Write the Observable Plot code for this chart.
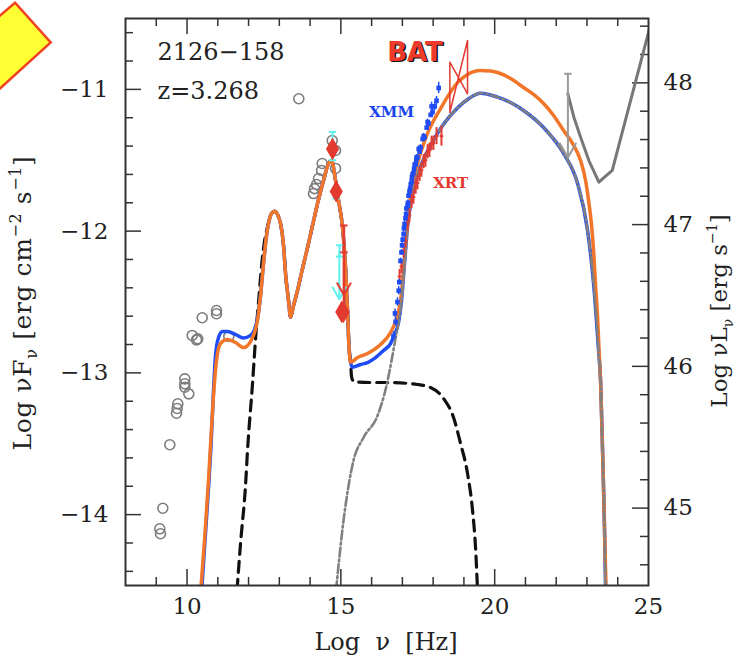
<!DOCTYPE html>
<html><head><meta charset="utf-8">
<script src="https://cdn.jsdelivr.net/npm/d3@7"></script>
<script src="https://cdn.jsdelivr.net/npm/@observablehq/plot@0.6"></script>
<style>
body{margin:0;background:#fff;}
#wrap{position:relative;width:751px;height:660px;overflow:hidden;}
#deco{position:absolute;left:0;top:0;}
</style></head><body>
<div id="wrap">
<svg id="deco" width="60" height="100"><polygon points="15,2.7 50.7,42.3 -5,93 -40,50" fill="#ffff33" stroke="#ee4422" stroke-width="2.5"/></svg>
</div>
<script>
// ---- data (log nu [Hz], log nuF_nu [erg cm^-2 s^-1]) ----
const archNu = [9.138,9.115,9.213,9.44,9.658,9.68,9.70,9.928,9.928,9.928,10.058,10.168,10.308,10.35,10.494,10.958,10.958,11.358,13.634,14.112,14.144,14.209,14.274,14.372,14.394,14.72,14.827,14.827];
const archF  = [-14.135,-14.10,-13.955,-13.507,-13.285,-13.251,-13.218,-13.042,-13.077,-13.101,-13.148,-12.736,-12.767,-12.76,-12.611,-12.560,-12.583,-12.743,-11.066,-11.735,-11.70,-11.671,-11.629,-11.572,-11.523,-11.361,-11.431,-11.558];

const uvNu = [14.73,14.84,14.96];
const uvHi = [-11.30,-11.70,-12.10];
const uvLo = [-11.50,-11.77,-12.18];
const uvUlNu = [14.95];
const uvUlFrom = [-12.14];
const uvUlTo = [-12.48];

const optNu = [14.73,14.85,15.03,15.08];
const optF  = [-11.42,-11.72,-12.57,-12.57];
const optBarNu = [15.10];
const optBarHi = [-11.96];
const optBarLo = [-12.57];
const optCapF = [-11.96,-12.15];
const optUlFrom = [-12.15];
const optUlTo = [-12.45];

const xmmNu = [16.71,16.76,16.78,16.84,16.88,16.90,16.94,16.97,16.99,17.01,17.04,17.05,17.07,17.10,17.12,17.13,17.17,17.18,17.20,17.23,17.25,17.27,17.30,17.31,17.33,17.36,17.38,17.40,17.43,17.45,17.46,17.49,17.53,17.56,17.59,17.66,17.69,17.72,17.79,17.82,17.85,17.92,17.95,17.98,18.05,18.11,18.18];
const xmmF  = [-12.74,-12.58,-12.64,-12.50,-12.42,-12.36,-12.21,-12.15,-12.10,-12.06,-12.02,-11.98,-11.95,-11.91,-11.88,-11.84,-11.82,-11.80,-11.75,-11.72,-11.70,-11.67,-11.65,-11.62,-11.60,-11.59,-11.56,-11.53,-11.53,-11.50,-11.48,-11.48,-11.42,-11.44,-11.41,-11.35,-11.33,-11.34,-11.27,-11.23,-11.24,-11.18,-11.12,-11.16,-11.12,-11.08,-10.99];
const xmmErr = [0.03,0.03,0.03,0.03,0.03,0.02,0.02,0.02,0.02,0.02,0.02,0.02,0.02,0.02,0.02,0.02,0.02,0.02,0.02,0.02,0.02,0.02,0.02,0.02,0.02,0.02,0.02,0.02,0.02,0.02,0.02,0.02,0.02,0.02,0.02,0.02,0.02,0.02,0.02,0.02,0.02,0.02,0.03,0.03,0.03,0.03,0.04];

const xrtNu = [16.91,16.97,17.04,17.10,17.17,17.23,17.30,17.36,17.43,17.49,17.56,17.62,17.69,17.75,17.82,17.88,17.95,18.01,18.11,18.27];
const xrtF  = [-12.32,-12.25,-12.14,-12.07,-11.95,-11.89,-11.79,-11.76,-11.69,-11.66,-11.60,-11.57,-11.51,-11.50,-11.44,-11.43,-11.38,-11.38,-11.33,-11.33];
const xrtErr = [0.05,0.05,0.05,0.05,0.05,0.05,0.05,0.05,0.05,0.05,0.05,0.05,0.05,0.05,0.05,0.05,0.05,0.05,0.06,0.07];

const batNu = [18.543,19.118,19.118,18.543,18.543];
const batF  = [-10.808,-11.031,-10.655,-11.163,-10.808];

const latNu = [22.379,22.574,22.792,23.062,23.387,23.822,24.96,25.3];
const latF  = [-11.031,-11.196,-11.337,-11.502,-11.655,-11.572,-10.632,-10.35];
const latUlNu = [22.38];
const latUlFrom = [-10.89];
const latUlTo = [-11.48];

// model: total (orange, second model)
const oNu = [10.44,10.568,10.698,10.763,10.861,10.958,11.088,11.306,11.576,11.836,12.064,12.194,12.291,12.389,12.486,
 12.584,12.649,12.746,12.844,12.941,13.039,13.137,13.202,13.299,13.364,13.462,13.592,13.754,13.917,14.08,14.242,14.437,14.6,14.697,14.827,14.925,15.055,15.152,15.217,15.266,15.315,
 15.543,15.868,16.29,16.615,16.81,16.94,17.038,17.103,17.265,17.493,17.818,18.241,18.793,19.118,19.541,19.866,20.094,20.516,20.939,21.264,21.589,21.915,22.24,22.532,22.792,22.955,23.052,23.15,23.215,23.28,23.345,23.393,23.442,23.507,23.572,23.621];
const oF = [-14.55,-14.183,-13.759,-13.512,-13.16,-12.913,-12.793,-12.765,-12.786,-12.821,-12.779,-12.715,-12.631,-12.454,-12.228,
 -12.031,-11.946,-11.876,-11.86,-11.883,-11.946,-12.101,-12.299,-12.489,-12.607,-12.525,-12.419,-12.264,-12.116,-11.96,-11.805,-11.643,-11.523,-11.502,-11.643,-11.784,-11.974,-12.257,-12.56,-12.821,-12.925,
 -12.892,-12.863,-12.8,-12.715,-12.617,-12.489,-12.278,-12.101,-11.749,-11.523,-11.311,-11.135,-10.952,-10.895,-10.867,-10.87,-10.881,-10.923,-10.987,-11.036,-11.1,-11.184,-11.29,-11.382,-11.502,-11.643,-11.784,-11.96,-12.137,-12.384,-12.609,-12.842,-13.054,-13.548,-14.112,-14.535];

// model: total (blue)
const bNu = [10.47,10.584,10.714,10.78,10.861,10.926,11.023,11.153,11.316,11.576,11.836,12.064,12.194,12.291,12.389,12.486,
 12.584,12.649,12.746,12.844,12.941,13.039,13.137,13.202,13.299,13.364,13.462,13.592,13.754,13.917,14.08,14.242,14.437,14.6,14.697,14.827,14.925,15.055,15.152,15.217,15.266,
 15.37,15.64,15.868,16.128,16.388,16.615,16.745,16.875,16.973,17.038,17.103,17.168,17.265,17.363,17.59,17.915,18.241,18.566,19.118,19.541,20.094,20.516,20.939,21.589,22.24,22.695,23.02,23.215,23.377,23.442,23.507,23.572,23.605];
const bF = [-14.55,-14.183,-13.759,-13.512,-13.124,-12.877,-12.751,-12.708,-12.708,-12.729,-12.754,-12.736,-12.694,-12.617,-12.454,-12.228,
 -12.031,-11.946,-11.876,-11.86,-11.883,-11.946,-12.101,-12.299,-12.489,-12.607,-12.525,-12.419,-12.264,-12.116,-11.96,-11.805,-11.643,-11.523,-11.502,-11.643,-11.784,-11.974,-12.257,-12.56,-12.821,
 -12.96,-12.941,-12.927,-12.892,-12.842,-12.793,-12.729,-12.645,-12.489,-12.313,-12.137,-11.967,-11.812,-11.706,-11.544,-11.396,-11.276,-11.184,-11.071,-11.027,-11.055,-11.093,-11.149,-11.269,-11.452,-11.664,-11.996,-12.37,-12.842,-13.054,-13.548,-14.112,-14.535];

// external Compton component (grey dot-dash)
const ecNu = [14.843,15.087,15.412,15.737,16.193,16.485,16.648,16.778,16.875,16.973,17.038,17.103,17.168,17.265,17.363,17.59,17.915,18.241,18.566,19.118,19.541,20.094,20.516,20.939,21.589,22.24,22.695,23.02,23.215,23.377,23.442,23.507,23.572,23.605];
const ecF = [-14.535,-14.042,-13.618,-13.456,-13.301,-13.089,-12.913,-12.758,-12.645,-12.489,-12.313,-12.137,-11.967,-11.812,-11.706,-11.544,-11.396,-11.276,-11.184,-11.071,-11.027,-11.055,-11.093,-11.149,-11.269,-11.452,-11.664,-11.996,-12.37,-12.842,-13.054,-13.548,-14.112,-14.535];

// torus + disk + X-ray corona (black dashed)
const dNu = [11.625,11.739,11.901,11.966,12.129,12.24,12.34,12.43,12.52,12.6,12.66,12.746,12.844,12.941,13.039,13.137,13.202,13.299,13.364,13.462,13.592,13.754,13.917,14.08,14.242,14.437,14.6,14.697,14.827,14.925,15.055,15.152,15.217,15.266,15.315,15.35,15.42,15.965,16.518,17.493,17.915,18.338,18.663,18.891,19.118,19.281,19.378,19.443];
const dF = [-14.535,-14.204,-13.795,-13.548,-13.075,-12.722,-12.46,-12.23,-12.07,-11.985,-11.93,-11.876,-11.86,-11.883,-11.946,-12.101,-12.299,-12.489,-12.607,-12.525,-12.419,-12.264,-12.116,-11.96,-11.805,-11.643,-11.523,-11.502,-11.643,-11.784,-11.974,-12.257,-12.56,-12.821,-12.925,-13.03,-13.062,-13.068,-13.068,-13.082,-13.103,-13.181,-13.315,-13.498,-13.71,-13.971,-14.232,-14.535];

// axes
const xMajor = [10,15,20];
const xMinor = [9,11,12,13,14,16,17,18,19,21,22,23,24];
const xLabels = [10,15,20,25];
const yMajor = [-14,-13,-12,-11];
const yMinor = [-14.4,-14.2,-13.8,-13.6,-13.4,-13.2,-12.8,-12.6,-12.4,-12.2,-11.8,-11.6,-11.4,-11.2,-10.8,-10.6];
const lumOffset = 58.954; // log nuL_nu = log nuF_nu + offset
const lumMajor = [45,46,47,48];
const lumMinor = [44.6,44.8,45.2,45.4,45.6,45.8,46.2,46.4,46.6,46.8,47.2,47.4,47.6,47.8,48.2,48.4];

const annotations = [
  {text:"XMM", nu:16.65, f:-11.163, color:"#1a45ee"},
  {text:"XRT", nu:18.57, f:-11.664, color:"#e23a30"}
];
const batLabel = {text:"BAT", nu:17.41, f:-10.74};

// ---- plot ----
const W=751, H=660, mL=125, mR=103, mT=18, mB=75;
const pW=W-mL-mR, pH=H-mT-mB;
const FONT="DejaVu Serif";
const axisCol="#333";
const BLUE="#1f4cf5", ORANGE="#f2762a", RED="#e23a30", CYAN="#5ef2ee", GREY="#7d7d7d";
const capW=0.12;

const chart = Plot.plot({
  width: W, height: H,
  marginLeft: mL, marginRight: mR, marginTop: mT, marginBottom: mB,
  x: {domain:[8,25], axis:null},
  y: {domain:[-14.5,-10.5], axis:null},
  style: {fontFamily: FONT, background:"#fff"},
  marks: [
    // ticks
    Plot.tickX(xMinor,{x:d=>d, insetTop:pH-8, stroke:axisCol, strokeWidth:1.5}),
    Plot.tickX(xMajor,{x:d=>d, insetTop:pH-16, stroke:axisCol, strokeWidth:1.5}),
    Plot.tickX(xMinor,{x:d=>d, insetBottom:pH-8, stroke:axisCol, strokeWidth:1.5}),
    Plot.tickX(xMajor,{x:d=>d, insetBottom:pH-16, stroke:axisCol, strokeWidth:1.5}),
    Plot.tickY(yMinor,{y:d=>d, insetRight:pW-8, stroke:axisCol, strokeWidth:1.5}),
    Plot.tickY(yMajor,{y:d=>d, insetRight:pW-16, stroke:axisCol, strokeWidth:1.5}),
    Plot.tickY(lumMinor,{y:d=>d-lumOffset, insetLeft:pW-8, stroke:axisCol, strokeWidth:1.5}),
    Plot.tickY(lumMajor,{y:d=>d-lumOffset, insetLeft:pW-16, stroke:axisCol, strokeWidth:1.5}),
    // tick labels
    Plot.text(xLabels,{x:d=>d, frameAnchor:"bottom", dy:21, lineAnchor:"middle", text:d=>String(d), fontSize:23, fontFamily:FONT, fill:"#222"}),
    Plot.text(yMajor,{y:d=>d, frameAnchor:"left", dx:-17, textAnchor:"end", lineAnchor:"middle", text:d=>"−"+Math.abs(d), fontSize:23, fontFamily:FONT, fill:"#222"}),
    Plot.text(lumMajor,{y:d=>d-lumOffset, frameAnchor:"right", dx:15, textAnchor:"start", lineAnchor:"middle", text:d=>String(d), fontSize:23, fontFamily:FONT, fill:"#222"}),
    // archival data
    Plot.dot(archNu,{x:archNu, y:archF, r:5, stroke:GREY, strokeWidth:1.6, fill:"none"}),
    // models
    Plot.line(dNu,{x:dNu, y:dF, stroke:"#111", strokeWidth:3.2, strokeDasharray:"11,7", curve:"monotone-x", clip:true}),
    Plot.line(bNu,{x:bNu, y:bF, stroke:BLUE, strokeWidth:3.5, curve:"monotone-x", clip:true}),
    Plot.line(oNu,{x:oNu, y:oF, stroke:ORANGE, strokeWidth:3.5, curve:"monotone-x", clip:true}),
    Plot.line(ecNu,{x:ecNu, y:ecF, stroke:"#808080", strokeWidth:2.6, strokeDasharray:"9,3,2,3", curve:"monotone-x", clip:true}),
    // optical/UV
    Plot.ruleX(uvNu,{x:uvNu, y1:uvLo, y2:uvHi, stroke:CYAN, strokeWidth:2}),
    Plot.link(uvNu,{x1:uvNu.map(v=>v-capW), x2:uvNu.map(v=>v+capW), y1:uvHi, y2:uvHi, stroke:CYAN, strokeWidth:2}),
    Plot.link(uvNu,{x1:uvNu.map(v=>v-capW), x2:uvNu.map(v=>v+capW), y1:uvLo, y2:uvLo, stroke:CYAN, strokeWidth:2}),
    Plot.arrow(uvUlNu,{x1:uvUlNu, x2:uvUlNu, y1:uvUlFrom, y2:uvUlTo, stroke:CYAN, strokeWidth:2, headLength:10}),
    Plot.ruleX(optBarNu,{x:optBarNu, y1:optBarLo, y2:optBarHi, stroke:RED, strokeWidth:2.5}),
    Plot.link(optCapF,{x1:optCapF.map(()=>optBarNu[0]-capW), x2:optCapF.map(()=>optBarNu[0]+capW), y1:optCapF, y2:optCapF, stroke:RED, strokeWidth:2}),
    Plot.arrow(optUlFrom,{x1:optBarNu, x2:optBarNu, y1:optUlFrom, y2:optUlTo, stroke:RED, strokeWidth:2, headLength:10}),
    Plot.dot(optNu,{x:optNu, y:optF, symbol:"diamond", r:6, fill:RED, stroke:RED}),
    // X-ray
    Plot.ruleX(xrtNu,{x:xrtNu, y1:xrtF.map((v,i)=>v-xrtErr[i]), y2:xrtF.map((v,i)=>v+xrtErr[i]), stroke:RED, strokeWidth:2}),
    Plot.link(xrtNu,{x1:xrtNu.map(v=>v-0.06), x2:xrtNu.map(v=>v+0.06), y1:xrtF, y2:xrtF, stroke:RED, strokeWidth:2}),
    Plot.ruleX(xmmNu,{x:xmmNu, y1:xmmF.map((v,i)=>v-xmmErr[i]), y2:xmmF.map((v,i)=>v+xmmErr[i]), stroke:BLUE, strokeWidth:1.5}),
    Plot.dot(xmmNu,{x:xmmNu, y:xmmF, symbol:"square", r:2.6, fill:BLUE}),
    Plot.line(batNu,{x:batNu, y:batF, stroke:RED, strokeWidth:1.5}),
    // gamma-ray
    Plot.line(latNu,{x:latNu, y:latF, stroke:"#777", strokeWidth:3, clip:true}),
    Plot.arrow(latUlNu,{x1:latUlNu, x2:latUlNu, y1:latUlFrom, y2:latUlTo, stroke:"#999", strokeWidth:2, headLength:12}),
    Plot.link(latUlNu,{x1:latUlNu.map(v=>v-0.12), x2:latUlNu.map(v=>v+0.12), y1:latUlFrom, y2:latUlFrom, stroke:"#999", strokeWidth:2}),
    // annotations
    Plot.text(annotations,{x:"nu", y:"f", text:"text", fill:"color", fontSize:15, fontWeight:"bold", fontFamily:FONT}),
    Plot.text([batLabel],{x:"nu", y:"f", text:"text", fill:"#111", dx:1.5, dy:1.5, fontSize:26, fontWeight:"bold", fontFamily:"DejaVu Sans"}),
    Plot.text([batLabel],{x:"nu", y:"f", text:"text", fill:"#ee3a2a", fontSize:26, fontWeight:"bold", fontFamily:"DejaVu Sans"}),
    Plot.text(["2126−158"],{frameAnchor:"top-left", dx:32, dy:34, textAnchor:"start", lineAnchor:"middle", fontSize:24, fontFamily:FONT, fill:"#222"}),
    Plot.text(["z=3.268"],{frameAnchor:"top-left", dx:32, dy:73, textAnchor:"start", lineAnchor:"middle", fontSize:24, fontFamily:FONT, fill:"#222"}),
    Plot.frame({stroke:axisCol, strokeWidth:2})
  ]
});

function addRich(svg, x, y, rot, parts, size, spacing){
  const t = d3.select(svg).append("text")
    .attr("transform", `translate(${x},${y}) rotate(${rot})`)
    .attr("text-anchor","middle").attr("font-family",FONT)
    .attr("font-size",size).attr("fill","#222")
    .attr("letter-spacing", spacing||0);
  let shift=0;
  for (const [s,kind] of parts){
    const target = kind==="sub"?6:kind==="sup"?-10:0;
    t.append("tspan").attr("dy",target-shift).attr("font-size",kind?Math.round(size*0.62):size).text(s);
    shift=target;
  }
}
addRich(chart, 31, 303, -90, [["Log νF"],["ν","sub"],[" [erg cm"],["−2","sup"],[" s"],["−1","sup"],["]"]], 25, 0.6);
addRich(chart, 727, 311, -90, [["Log νL"],["ν","sub"],[" [erg s"],["−1","sup"],["]"]], 23);
addRich(chart, 386, 650, 0, [["Log  ν  [Hz]"]], 24);

const wrap=document.getElementById("wrap");
wrap.insertBefore(chart, wrap.firstChild);
</script>
</body></html>
